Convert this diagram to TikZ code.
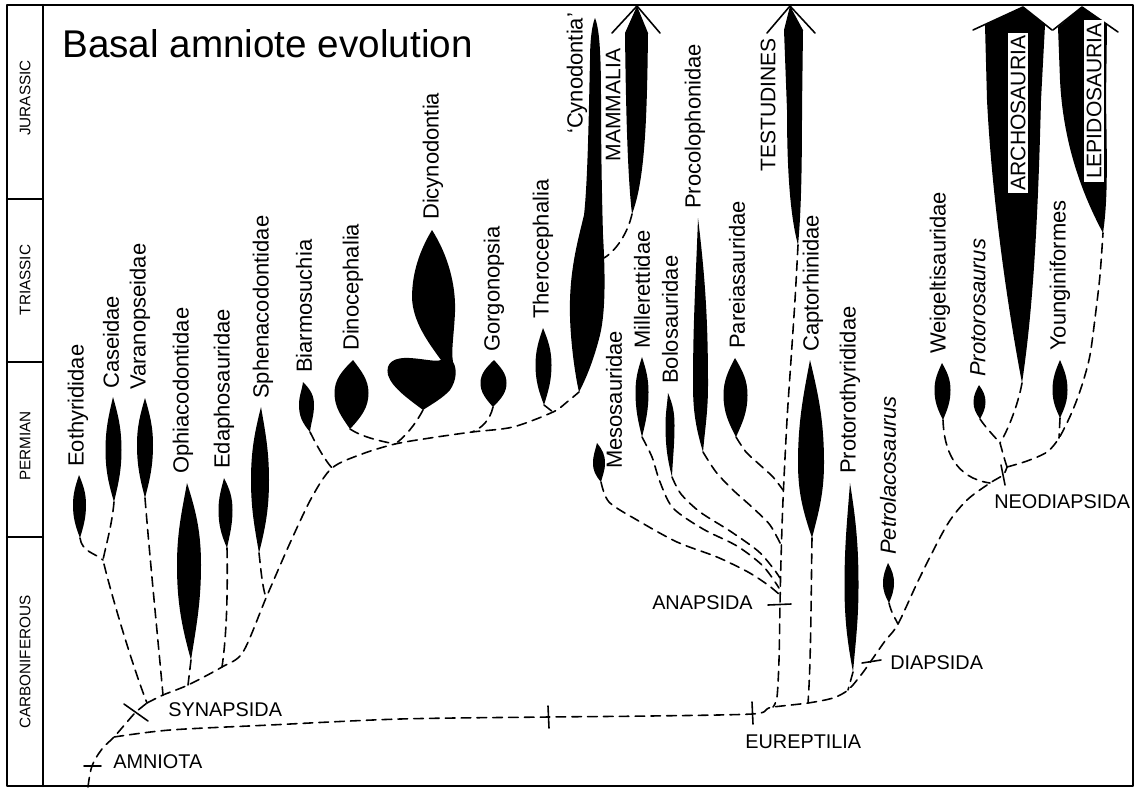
\documentclass[tikz,border=0pt]{standalone}
\usepackage{fontspec}
\setmainfont{Liberation Sans}

% 纺锤形：名称, 上端x, 上端y, 下端x, 下端y, 半宽, 最宽处y
\newcommand{\spindle}[7]{%
  \coordinate (#1-t) at (#2,#3);
  \coordinate (#1-b) at (#4,#5);
  \fill (#1-t)
    .. controls ({(#2+#4)/2+0.6*#6},{#3+0.35*(#7-#3)}) and ({(#2+#4)/2+#6},{#7-0.4*(#7-#3)}) .. ({(#2+#4)/2+#6},#7)
    .. controls ({(#2+#4)/2+#6},{#7+0.4*(#5-#7)}) and ({(#2+#4)/2+0.6*#6},{#5-0.35*(#5-#7)}) .. (#1-b)
    .. controls ({(#2+#4)/2-0.6*#6},{#5-0.35*(#5-#7)}) and ({(#2+#4)/2-#6},{#7+0.4*(#5-#7)}) .. ({(#2+#4)/2-#6},#7)
    .. controls ({(#2+#4)/2-#6},{#7-0.4*(#7-#3)}) and ({(#2+#4)/2-0.6*#6},{#3+0.35*(#7-#3)}) .. cycle;
}

\begin{document}
\begin{tikzpicture}[
    % 以像素为单位，y 轴向下
    x=0.02cm, y=-0.02cm,
    line cap=round, line join=round,
    branch/.style={line width=0.9pt, dash pattern=on 5.5pt off 3.5pt},
    tick/.style={line width=0.9pt},
    barb/.style={line width=0.9pt},
    frame/.style={line width=1.2pt},
    taxon/.style={rotate=90, anchor=west, inner sep=0.5pt, font=\fontsize{12.5}{14}\selectfont},
    group/.style={rotate=90, inner sep=1.5pt, font=\fontsize{12}{14}\selectfont},
    clade/.style={inner sep=0pt, font=\fontsize{11.3}{14}\selectfont},
    period/.style={rotate=90, inner sep=0pt, font=\fontsize{8.7}{10}\selectfont},
  ]
  \useasboundingbox (0,0) rectangle (1139,789);

  % 边框与地质年代栏
  \draw[frame] (7,5) rectangle (1133,786);
  \draw[frame] (43,5) -- (43,786);
  \draw[frame] (7,199) -- (43,199);
  \draw[frame] (7,362) -- (43,362);
  \draw[frame] (7,537) -- (43,537);
  \node[period] (jur) at (25,98) {JURASSIC};
  \node[period] (tri) at (25,280) {TRIASSIC};
  \node[period] (per) at (25,446) {PERMIAN};
  \node[period] (car) at (25,662) {CARBONIFEROUS};

  \node[anchor=base west, inner sep=0pt, font=\fontsize{22}{26}\selectfont] (title) at (62,57) {Basal amniote evolution};

  % 合弓类的纺锤形
  \spindle{eot}{79}{475}{80}{538}{6.5}{505}
  \spindle{cas}{113}{397}{114}{502}{8}{450}
  \spindle{var}{145}{398}{145}{498}{8}{445}
  \spindle{oph}{187}{483}{191}{660}{12}{565}
  \spindle{eda}{224}{478}{227}{548}{7}{510}
  \spindle{sph}{261}{407}{259}{553}{9}{480}
  \spindle{bia}{303}{382}{310}{432}{7.5}{405}
  \spindle{din}{353}{360}{350}{429}{17}{393}
  \spindle{gor}{494}{360}{493}{407}{13}{383}
  \spindle{the}{543}{328}{544}{405}{8}{365}

  % 二齿兽类
  \coordinate (dic-b) at (423,410);
  \fill (432,230) .. controls (448,255) and (456,285) .. (455,312)
    .. controls (454,335) and (451,350) .. (453,362)
    .. controls (457,368) and (457,380) .. (450,390)
    .. controls (443,398) and (432,404) .. (dic-b)
    .. controls (410,400) and (392,388) .. (388,375)
    .. controls (385,362) and (395,357) .. (410,358)
    .. controls (425,359) and (435,362) .. (441,360)
    .. controls (428,342) and (413,322) .. (412,298)
    .. controls (412,272) and (420,250) .. cycle;

  % 犬齿兽类
  \coordinate (cyn-b) at (579,392);
  \fill (595,18) .. controls (600,30) and (601,60) .. (601,100)
    .. controls (601,150) and (602,200) .. (603,235)
    .. controls (605,270) and (606,310) .. (600,335)
    .. controls (595,355) and (588,375) .. (cyn-b)
    .. controls (574,370) and (569,330) .. (570,300)
    .. controls (571,265) and (578,240) .. (584,215)
    .. controls (588,180) and (589,100) .. (590,60)
    .. controls (590,40) and (592,25) .. cycle;

  % 哺乳类箭头
  \coordinate (mam-b) at (632,214);
  \coordinate (mam-tip) at (637,6);
  \fill (mam-b) .. controls (628,180) and (626,120) .. (625,33) -- (mam-tip)
    -- (648,33) .. controls (647,120) and (645,180) .. cycle;
  \draw[barb] (612,33) -- (mam-tip) -- (660,33);

  % 副爬行类与龟类
  \spindle{mes}{597}{443}{601}{482}{6}{463}
  \spindle{mil}{642}{357}{642}{437}{6.5}{392}
  \spindle{bol}{668}{393}{672}{477}{4.5}{425}
  \spindle{pco}{698}{218}{703}{452}{7.5}{385}
  \spindle{par}{735}{358}{736}{437}{12}{395}
  \coordinate (tes-b) at (798,245);
  \coordinate (tes-tip) at (790,6);
  \fill (tes-b) .. controls (790,215) and (787,170) .. (787,110) -- (784,30) -- (tes-tip)
    -- (803,30) -- (802,110) .. controls (802,170) and (801,215) .. cycle;
  \draw[barb] (767,33) -- (tes-tip) -- (815,33);
  \spindle{cap}{810}{360}{812}{538}{13}{463}
  \spindle{ptr}{850}{483}{853}{672}{7}{585}

  % 双孔类
  \spindle{pet}{888}{563}{889}{603}{5.5}{583}
  \spindle{wei}{942}{363}{943}{420}{8}{390}
  \spindle{prs}{979}{385}{980}{419}{6}{402}
  \spindle{you}{1060}{360}{1060}{418}{7.5}{390}
  \coordinate (arc-b) at (1022,383);
  \coordinate (arc-tip) at (1023,7);
  \fill (arc-b) .. controls (1008,310) and (992,200) .. (987,100) -- (985,25) -- (arc-tip)
    -- (1045,25) -- (1041,100) .. controls (1038,220) and (1033,310) .. cycle;
  \draw[barb] (973,30) -- (arc-tip) -- (1052,30);
  \coordinate (lep-b) at (1103,233);
  \coordinate (lep-tip) at (1082,7);
  \fill (lep-b) .. controls (1080,190) and (1063,140) .. (1060,80) -- (1058,27) -- (lep-tip)
    -- (1107,25) -- (1106,100) .. controls (1107,160) and (1108,200) .. cycle;
  \draw[barb] (1053,30) -- (lep-tip) -- (1118,32);

  % 分支点
  \coordinate (root) at (88,787);
  \coordinate (amnJ) at (114,737);
  \coordinate (syn) at (136,712);
  \coordinate (synJ) at (147,703);
  \coordinate (casJ) at (103,560);
  \coordinate (varJ) at (163,695);
  \coordinate (ophJ) at (188,685);
  \coordinate (edaJ) at (222,667);
  \coordinate (sphJ) at (266,598);
  \coordinate (biaJ) at (332,468);
  \coordinate (dinJ) at (395,444);
  \coordinate (gorJ) at (472,432);
  \coordinate (theJ) at (553,412);
  \coordinate (mamJ) at (604,258);
  \coordinate (eur) at (752,714);
  \coordinate (anaJ) at (773,707);
  \coordinate (ana) at (780,605);
  \coordinate (capJ) at (808,703);
  \coordinate (ptJ) at (848,690);
  \coordinate (dia) at (871,661);
  \coordinate (petJ) at (898,624);
  \coordinate (weiJ) at (990,483);
  \coordinate (neo) at (1003,475);
  \coordinate (neoJ) at (1007,467);
  \coordinate (arcJ) at (1000,443);
  \coordinate (youJ) at (1059,438);

  % 主干
  \draw[branch] plot[smooth, tension=0.6] coordinates {(root) (92,766) (102,749) (amnJ) (127,722) (syn) (synJ)};
  \draw[branch] plot[smooth, tension=0.5] coordinates {(amnJ) (170,730) (270,725) (400,719) (548,717) (650,716) (eur) (767,709) (anaJ) (capJ) (833,698) (ptJ) (861,675) (dia) (885,641) (petJ) (920,577) (947,525) (967,500) (weiJ) (neo) (neoJ)};

  % 合弓类分支
  \draw[branch] plot[smooth, tension=0.5] coordinates {(synJ) (varJ) (ophJ) (edaJ) (243,652) (sphJ) (290,543) (312,497) (biaJ) (362,454) (dinJ) (430,438) (gorJ) (513,427) (theJ) (567,402) (cyn-b)};
  \draw[branch] (eot-b) .. controls (82,552) and (95,553) .. (casJ);
  \draw[branch] (cas-b) .. controls (112,525) and (106,545) .. (casJ)
    .. controls (110,590) and (132,665) .. (synJ);
  \draw[branch] (var-b) .. controls (150,560) and (158,640) .. (varJ);
  \draw[branch] (oph-b) -- (ophJ);
  \draw[branch] (eda-b) .. controls (228,600) and (226,640) .. (edaJ);
  \draw[branch] (sph-b) .. controls (261,570) and (262,585) .. (sphJ);
  \draw[branch] (bia-b) .. controls (318,448) and (325,460) .. (biaJ);
  \draw[branch] (din-b) .. controls (362,437) and (380,441) .. (dinJ);
  \draw[branch] (dic-b) .. controls (415,425) and (405,437) .. (dinJ);
  \draw[branch] (gor-b) .. controls (490,420) and (482,428) .. (gorJ);
  \draw[branch] (the-b) -- (theJ);
  \draw[branch] (mam-b) .. controls (628,232) and (617,250) .. (mamJ);

  % 无孔类分支
  \draw[branch] plot[smooth, tension=0.5] coordinates {(tes-b) (795,300) (791,360) (787,420) (783,500) (781,560) (ana) (779,660) (777,697) (anaJ)};
  \draw[branch] plot[smooth, tension=0.5] coordinates {(mes-b) (609,502) (637,520) (677,542) (717,557) (748,572) (768,585) (780,595)};
  \draw[branch] plot[smooth, tension=0.5] coordinates {(mil-b) (652,457) (660,482) (673,508) (703,529) (737,546) (763,566) (779,588)};
  \draw[branch] plot[smooth, tension=0.5] coordinates {(bol-b) (681,494) (700,512) (730,531) (758,551) (773,568) (780,578)};
  \draw[branch] plot[smooth, tension=0.5] coordinates {(pco-b) (716,472) (733,490) (753,508) (770,525) (781,545)};
  \draw[branch] plot[smooth, tension=0.5] coordinates {(par-b) (746,452) (760,465) (773,477) (783,490)};
  \draw[branch] (cap-b) .. controls (811,600) and (811,660) .. (capJ);
  \draw[branch] (ptr-b) -- (ptJ);

  % 双孔类分支
  \draw[branch] (pet-b) .. controls (891,612) and (895,618) .. (petJ);
  \draw[branch] (wei-b) .. controls (944,450) and (955,478) .. (weiJ);
  \draw[branch] (neoJ) .. controls (1004,458) and (1002,450) .. (arcJ);
  \draw[branch] (prs-b) .. controls (986,428) and (994,436) .. (arcJ);
  \draw[branch] (arc-b) .. controls (1018,405) and (1008,430) .. (arcJ);
  \draw[branch] plot[smooth, tension=0.5] coordinates {(neoJ) (1027,461) (1047,452) (youJ) (1072,412) (1082,385) (1090,355) (1096,310) (1100,275) (lep-b)};
  \draw[branch] (you-b) -- (youJ);

  % 节点标记
  \draw[tick] (84,766) -- (101,766);
  \draw[tick] (124,704) -- (148,721);
  \draw[tick] (548,706) -- (549,728);
  \draw[tick] (752,702) -- (753,724);
  \draw[tick] (768,605) -- (791,604);
  \draw[tick] (862,663) -- (881,660);
  \draw[tick] (1001,465) -- (1005,485);

  % 类群名称
  \node[clade, anchor=west] (amniota) at (113,762) {AMNIOTA};
  \node[clade, anchor=west] (synapsida) at (168,710) {SYNAPSIDA};
  \node[clade, anchor=west] (eureptilia) at (745,742) {EUREPTILIA};
  \node[clade, anchor=east] (anapsida) at (753,603) {ANAPSIDA};
  \node[clade, anchor=west] (diapsida) at (890,663) {DIAPSIDA};
  \node[clade, anchor=west] (neodiapsida) at (994,502) {NEODIAPSIDA};

  % 各支名称
  \node[taxon] (eotL) at (78,468) {Eothyrididae};
  \node[taxon] (casL) at (111,390) {Caseidae};
  \node[taxon] (varL) at (140,391) {Varanopseidae};
  \node[taxon] (ophL) at (183,475) {Ophiacodontidae};
  \node[taxon] (edaL) at (224,470) {Edaphosauridae};
  \node[taxon] (sphL) at (263,400) {Sphenacodontidae};
  \node[taxon] (biaL) at (304,374) {Biarmosuchia};
  \node[taxon] (dinL) at (353,352) {Dinocephalia};
  \node[taxon] (dicL) at (433,221) {Dicynodontia};
  \node[taxon] (gorL) at (494,353) {Gorgonopsia};
  \node[taxon] (theL) at (543,320) {Therocephalia};
  \node[taxon] (cynL) at (577,135) {‘Cynodontia’};
  \node[group] (mamL) at (613,105) {MAMMALIA};
  \node[taxon] (mesL) at (614,470) {Mesosauridae};
  \node[taxon] (milL) at (642,350) {Millerettidae};
  \node[taxon] (bolL) at (670,385) {Bolosauridae};
  \node[taxon] (pcoL) at (695,210) {Procolophonidae};
  \node[taxon] (parL) at (737,350) {Pareiasauridae};
  \node[group] (tesL) at (768,105) {TESTUDINES};
  \node[taxon] (capL) at (813,353) {Captorhinidae};
  \node[taxon] (ptrL) at (850,475) {Protorothyrididae};
  \node[taxon] (petL) at (888,556) {\itshape Petrolacosaurus};
  \node[taxon] (weiL) at (940,355) {Weigeltisauridae};
  \node[taxon] (prsL) at (978,378) {\itshape Protorosaurus};
  \node[group, fill=white] (arcL) at (1018,113) {ARCHOSAURIA};
  \node[taxon] (youL) at (1060,352) {Younginiformes};
  \node[group, fill=white] (lepL) at (1094,101) {LEPIDOSAURIA};
\end{tikzpicture}
\end{document}
